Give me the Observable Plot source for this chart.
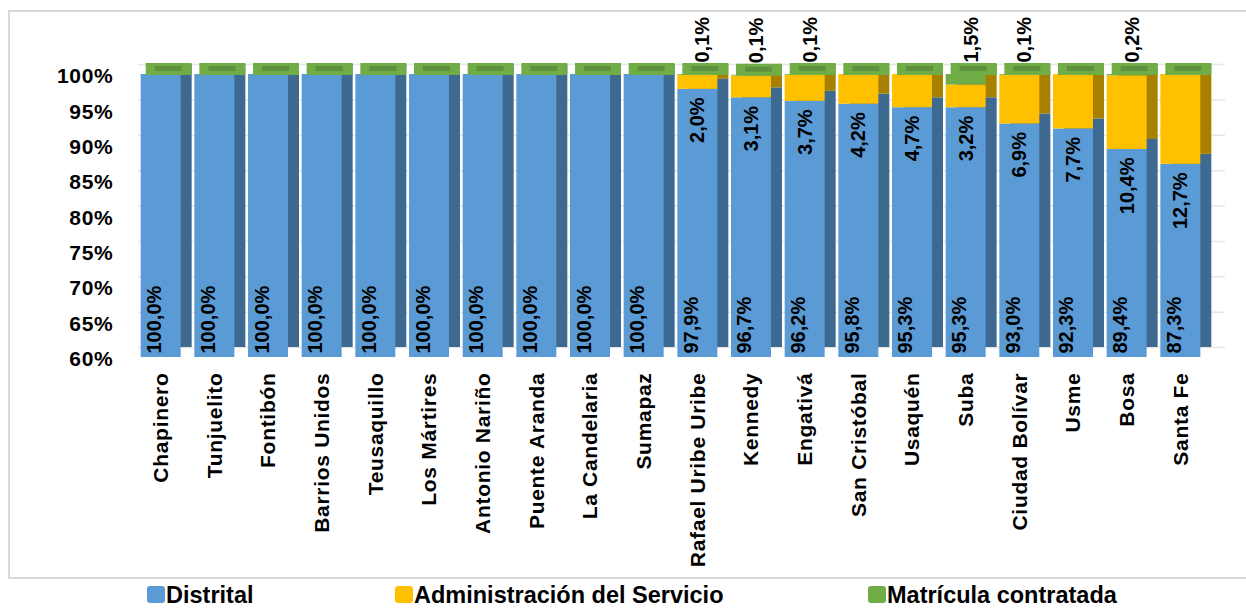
<!DOCTYPE html>
<html><head><meta charset="utf-8">
<script src="https://cdn.jsdelivr.net/npm/d3@7"></script>
<script src="https://cdn.jsdelivr.net/npm/@observablehq/plot@0.6"></script>
<style>
body{margin:0;background:#fff;font-family:Arial,"Liberation Sans",sans-serif;}
#frame{position:absolute;left:8px;top:10px;width:1250px;height:565px;border:2px solid #d9d9d9;border-right:none;}
#chart{position:absolute;left:0;top:0;}
.item{position:absolute;top:584px;font-weight:bold;font-size:23.5px;line-height:23px;color:#000;white-space:nowrap;}
.sw{display:inline-block;width:18px;height:17px;border-radius:3px;margin-right:1px;vertical-align:0}
</style></head>
<body>
<div id="frame"></div>
<div id="chart"></div>
<div id="legend"></div>
<script>
const districts = ["Chapinero","Tunjuelito","Fontibón","Barrios Unidos","Teusaquillo","Los Mártires","Antonio Nariño","Puente Aranda","La Candelaria","Sumapaz","Rafael Uribe Uribe","Kennedy","Engativá","San Cristóbal","Usaquén","Suba","Ciudad Bolívar","Usme","Bosa","Santa Fe"];
const distrital      = [100,100,100,100,100,100,100,100,100,100,97.9,96.7,96.2,95.8,95.3,95.3,93.0,92.3,89.4,87.3];
const administracion = [0,0,0,0,0,0,0,0,0,0,2.0,3.1,3.7,4.2,4.7,3.2,6.9,7.7,10.4,12.7];
const matricula      = [0,0,0,0,0,0,0,0,0,0,0.1,0.1,0.1,0,0,1.5,0.1,0,0.2,0];
const seriesNames = ["Distrital","Administración del Servicio","Matrícula contratada"];
const seriesColors = ["#5b9bd5","#ffc000","#70ad47"];
const seriesDark = ["#3e6a91","#a88000","#4e7a31"];
const yTicks = [60,65,70,75,80,85,90,95,100];

const seriesValues = [distrital, administracion, matricula];
const rows = [];
districts.forEach((d,i)=>{
  seriesNames.forEach((s,k)=>rows.push({district:d, serie:s, k, value:seriesValues[k][i]}));
});
const totals = districts.map((d,i)=>({district:d, distrital:distrital[i], admin:administracion[i], mat:matricula[i], total:distrital[i]+administracion[i]+matricula[i]}));
const fmt = v => v.toFixed(1).replace(".",",")+"%";

const chart = Plot.plot({
  width:1246, height:577,
  marginLeft:127, marginRight:32, marginTop:74, marginBottom:220,
  x:{domain:districts, padding:0.255, round:false, label:null},
  y:{domain:[60,100], clamp:true, label:null},
  color:{type:"identity"},
  style:{fontFamily:'Arial, "Liberation Sans", sans-serif', fontWeight:"bold", color:"#000", background:"transparent", overflow:"visible"},
  marks:[
    Plot.ruleY(yTicks, {stroke:"#e6e6e6", strokeWidth:1.5, dx:11, dy:-10}),
    Plot.barY(rows, {x:"district", y:"value", z:"serie", fill:d=>seriesDark[d.k], dx:11, dy:-10}),
    Plot.barY(rows, {x:"district", y:"value", z:"serie", fill:d=>seriesColors[d.k]}),
    Plot.barY(totals, {x:"district", y1:"total", y2:"total", fill:"#70ad47", insetTop:-11, insetBottom:-1, insetLeft:0, insetRight:-6, dx:5}),
    Plot.barY(totals, {x:"district", y1:"total", y2:"total", fill:"#5e9040", insetTop:-8, insetBottom:3, insetLeft:9, insetRight:4, dx:5}),
    Plot.text(totals, {x:"district", frameAnchor:"bottom", text:d=>fmt(d.distrital), rotate:-90, textAnchor:"start", dy:-4, fontSize:20, fontWeight:"bold"}),
    Plot.text(totals.filter(d=>d.admin>0), {x:"district", y:"distrital", text:d=>fmt(d.admin), rotate:-90, textAnchor:"end", dy:8, fontSize:20, fontWeight:"bold"}),
    Plot.text(totals.filter(d=>d.mat>0), {x:"district", y:"total", text:d=>fmt(d.mat), rotate:-90, textAnchor:"start", dy:-12, dx:5, fontSize:20, fontWeight:"bold"}),
    Plot.axisY({ticks:yTicks, tickFormat:d=>d+"%", tickSize:0, tickPadding:14, fontSize:21, dy:2}),
    Plot.axisX({tickRotate:-90, tickSize:0, tickPadding:15, fontSize:21})
  ]
});
chart.querySelectorAll('g[aria-label="y-axis tick label"] text, g[aria-label="x-axis tick label"] text').forEach(t=>t.setAttribute("letter-spacing","0.7"));
document.getElementById("chart").appendChild(chart);

const legendX = [147, 395, 868];
const legend = document.getElementById("legend");
seriesNames.forEach((s,k)=>{
  const it = document.createElement("div");
  it.className = "item";
  it.style.left = legendX[k]+"px";
  it.innerHTML = `<span class="sw" style="background:${seriesColors[k]}"></span>${s}`;
  legend.appendChild(it);
});
</script>
</body></html>
